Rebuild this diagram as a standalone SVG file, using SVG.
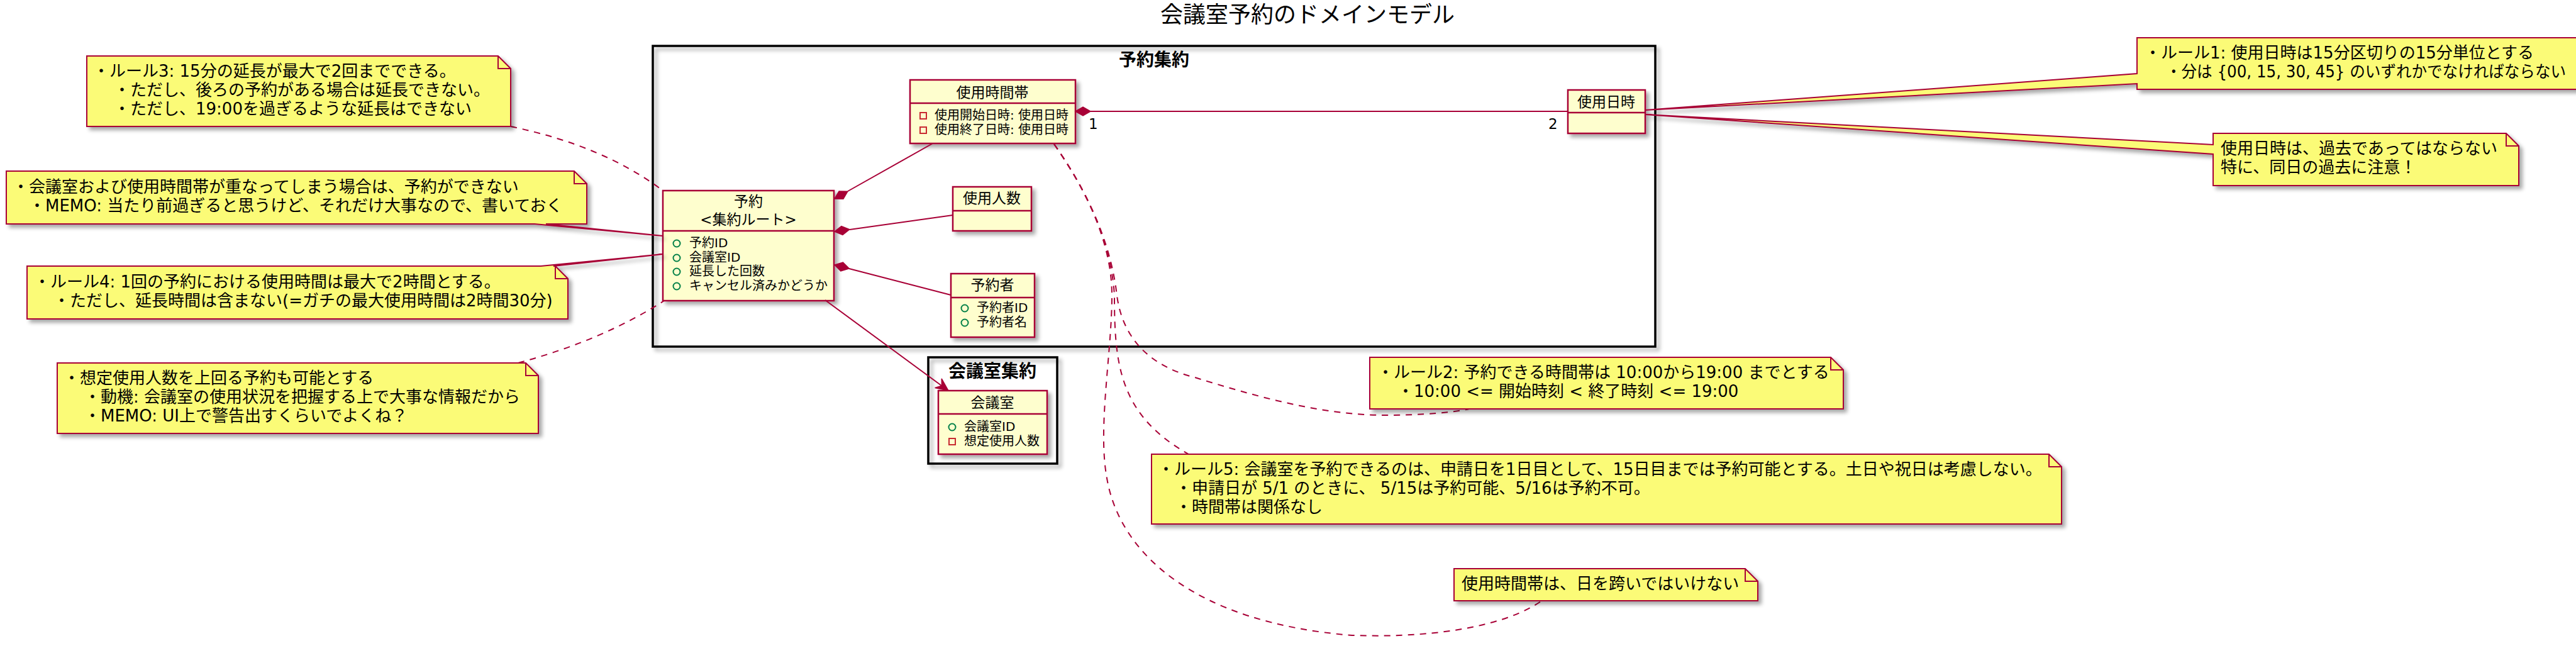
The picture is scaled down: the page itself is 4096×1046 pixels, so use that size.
<svg xmlns="http://www.w3.org/2000/svg" width="4096" height="1046" viewBox="0 0 4096 1046">
<defs>
<filter id="sh" x="-5%" y="-5%" width="115%" height="130%">
<feGaussianBlur in="SourceAlpha" stdDeviation="3"/>
<feOffset dx="5" dy="5"/>
<feComponentTransfer><feFuncA type="linear" slope="0.35"/></feComponentTransfer>
<feMerge><feMergeNode/><feMergeNode in="SourceGraphic"/></feMerge>
</filter>
<style>
.cls{fill:#FEFECE;stroke:#A80036;stroke-width:2.5}
.sep{stroke:#A80036;stroke-width:2.5}
.note{fill:#FBFB77;stroke:#A80036;stroke-width:2}
.fold{fill:none;stroke:#A80036;stroke-width:2}
.frame{fill:none;stroke:#000;stroke-width:3.5}
text{font-family:"DejaVu Sans","Noto Sans CJK JP",sans-serif;fill:#000}
.nm{font-size:23px;text-anchor:middle}
.at{font-size:20px}
.nt{font-size:26px}
.ft{font-size:28px;font-weight:bold;text-anchor:middle}
.ln{stroke:#A80036;stroke-width:2;fill:none}
.dl{stroke:#A80036;stroke-width:2;fill:none;stroke-dasharray:10 9}
.dia{fill:#A80036;stroke:#A80036;stroke-width:1.5}
.pub{fill:none;stroke:#038048;stroke-width:2}
.prv{fill:none;stroke:#C82930;stroke-width:2}
</style>
</defs>
<rect width="4096" height="1046" fill="#fff"/>
<text x="2079" y="36" font-size="36" text-anchor="middle">会議室予約のドメインモデル</text>

<g id="frame-yoyaku">
<rect class="frame" x="1038" y="73" width="1594" height="478" filter="url(#sh)"/>
<text class="ft" x="1835" y="105">予約集約</text>
</g>
<g id="frame-kaigishitsu">
<rect class="frame" x="1476" y="568" width="205" height="169" filter="url(#sh)"/>
<text class="ft" x="1578" y="600">会議室集約</text>
</g>

<g id="class-yoyaku">
<rect class="cls" x="1054" y="303" width="272" height="175" filter="url(#sh)"/>
<line class="sep" x1="1054" y1="367" x2="1326" y2="367"/>
<text class="nm" x="1190" y="328">予約</text>
<text class="nm" x="1190" y="357">&lt;集約ルート&gt;</text>
<circle class="pub" cx="1076" cy="387" r="5.5"/>
<text class="at" x="1096" y="393">予約ID</text>
<circle class="pub" cx="1076" cy="410" r="5.5"/>
<text class="at" x="1096" y="416">会議室ID</text>
<circle class="pub" cx="1076" cy="432" r="5.5"/>
<text class="at" x="1096" y="438">延長した回数</text>
<circle class="pub" cx="1076" cy="455" r="5.5"/>
<text class="at" x="1096" y="461">キャンセル済みかどうか</text>
</g>

<g id="class-jikantai">
<rect class="cls" x="1447" y="127" width="263" height="101" filter="url(#sh)"/>
<line class="sep" x1="1447" y1="164" x2="1710" y2="164"/>
<text class="nm" x="1578" y="155">使用時間帯</text>
<rect class="prv" x="1463" y="179" width="10" height="10"/>
<text class="at" x="1486" y="190">使用開始日時: 使用日時</text>
<rect class="prv" x="1463" y="202" width="10" height="10"/>
<text class="at" x="1486" y="213">使用終了日時: 使用日時</text>
</g>

<g id="class-nichiji">
<rect class="cls" x="2493" y="143" width="123" height="69" filter="url(#sh)"/>
<line class="sep" x1="2493" y1="179" x2="2616" y2="179"/>
<text class="nm" x="2554" y="170">使用日時</text>
</g>

<g id="class-ninzu">
<rect class="cls" x="1515" y="297" width="125" height="70" filter="url(#sh)"/>
<line class="sep" x1="1515" y1="335" x2="1640" y2="335"/>
<text class="nm" x="1577" y="323">使用人数</text>
</g>

<g id="class-yoyakusha">
<rect class="cls" x="1512" y="435" width="133" height="101" filter="url(#sh)"/>
<line class="sep" x1="1512" y1="473" x2="1645" y2="473"/>
<text class="nm" x="1578" y="461">予約者</text>
<circle class="pub" cx="1534" cy="490" r="5.5"/>
<text class="at" x="1553" y="496">予約者ID</text>
<circle class="pub" cx="1534" cy="513" r="5.5"/>
<text class="at" x="1553" y="519">予約者名</text>
</g>

<g id="class-kaigishitsu">
<rect class="cls" x="1492" y="621" width="173" height="101" filter="url(#sh)"/>
<line class="sep" x1="1492" y1="658" x2="1665" y2="658"/>
<text class="nm" x="1578" y="648">会議室</text>
<circle class="pub" cx="1514" cy="679" r="5.5"/>
<text class="at" x="1533" y="685">会議室ID</text>
<rect class="prv" x="1509" y="697" width="10" height="10"/>
<text class="at" x="1533" y="708">想定使用人数</text>
</g>

<g id="connectors">
<line class="ln" x1="1348" y1="304" x2="1483" y2="228"/>
<polygon class="dia" points="1327,316 1340.9,316.2 1347.9,304.2 1334.1,304"/>
<line class="ln" x1="1351" y1="365" x2="1515" y2="342"/>
<polygon class="dia" points="1327,368 1339.9,373.3 1350.8,364.7 1337.9,359.5"/>
<line class="ln" x1="1350" y1="427" x2="1512" y2="469"/>
<polygon class="dia" points="1327,421 1336.8,430.8 1350.2,427 1340.4,417.2"/>
<line class="ln" x1="1734" y1="177" x2="2493" y2="177"/>
<polygon class="dia" points="1710,177 1722,170 1734,177 1722,184"/>
<text x="1731" y="205" font-size="23">1</text>
<text x="2462" y="205" font-size="23">2</text>
<line class="ln" x1="1312" y1="477" x2="1497" y2="613"/>
<polygon class="dia" points="1508,621 1497.2,601.9 1497.5,613.3 1486.6,616.5"/>
<path class="dl" d="M812,201 Q960,232 1054,303"/>
<path class="dl" d="M824,577 Q960,540 1056,478"/>
<path class="dl" d="M1676,229 C1740,320 1768,400 1776,470 C1784,530 1820,580 1900,600 C1990,628 2100,660 2200,660 C2260,660 2310,656 2336,650"/>
<path class="dl" d="M1676,229 C1740,320 1768,400 1772,470 C1772,580 1780,660 1890,722"/>
<path class="dl" d="M1676,229 C1740,320 1768,400 1768,470 C1768,560 1745,680 1760,760 C1780,880 1900,990 2150,1010 C2300,1015 2400,990 2450,956"/>
</g>

<g id="note-rule3">
<path class="note" d="M138,89 L792,89 L812,109 L812,201 L138,201 Z" filter="url(#sh)"/>
<path class="fold" d="M792,89 L792,109 L812,109"/>
<text class="nt" x="148" y="122">・ルール3: 15分の延長が最大で2回までできる。</text>
<text class="nt" x="181" y="152">・ただし、後ろの予約がある場合は延長できない。</text>
<text class="nt" x="181" y="182">・ただし、19:00を過ぎるような延長はできない</text>
</g>

<g id="note-overlap">
<path class="note" d="M10,272 L913,272 L933,292 L933,356 L868,356 L1054,375 L850,356 L10,356 Z" filter="url(#sh)"/>
<path class="fold" d="M913,272 L913,292 L933,292"/>
<text class="nt" x="20" y="306">・会議室および使用時間帯が重なってしまう場合は、予約ができない</text>
<text class="nt" x="46" y="336">・MEMO: 当たり前過ぎると思うけど、それだけ大事なので、書いておく</text>
</g>

<g id="note-rule4">
<path class="note" d="M43,423 L860,423 L1054,404 L880,423 L883,423 L903,443 L903,507 L43,507 Z" filter="url(#sh)"/>
<path class="fold" d="M883,423 L883,443 L903,443"/>
<text class="nt" x="54" y="457">・ルール4: 1回の予約における使用時間は最大で2時間とする。</text>
<text class="nt" x="85" y="487">・ただし、延長時間は含まない(=ガチの最大使用時間は2時間30分)</text>
</g>

<g id="note-ninzu">
<path class="note" d="M91,577 L836,577 L856,597 L856,689 L91,689 Z" filter="url(#sh)"/>
<path class="fold" d="M836,577 L836,597 L856,597"/>
<text class="nt" x="101" y="610">・想定使用人数を上回る予約も可能とする</text>
<text class="nt" x="134" y="640">・動機: 会議室の使用状況を把握する上で大事な情報だから</text>
<text class="nt" x="134" y="670">・MEMO: UI上で警告出すくらいでよくね？</text>
</g>

<g id="note-rule1">
<path class="note" d="M3398,60 L4120,60 L4120,142 L3398,142 L3398,133 L2616,175 L3398,117 Z" filter="url(#sh)"/>
<text class="nt" x="3410" y="93">・ルール1: 使用日時は15分区切りの15分単位とする</text>
<text class="nt" x="3444" y="123" textLength="636" lengthAdjust="spacingAndGlyphs">・分は {00, 15, 30, 45} のいずれかでなければならない</text>
</g>

<g id="note-past">
<path class="note" d="M3519,212 L3985,212 L4005,232 L4005,295 L3519,295 L3519,245 L2616,182 L3519,230 Z" filter="url(#sh)"/>
<path class="fold" d="M3985,212 L3985,232 L4005,232"/>
<text class="nt" x="3531" y="245">使用日時は、過去であってはならない</text>
<text class="nt" x="3531" y="275">特に、同日の過去に注意！</text>
</g>

<g id="note-rule2">
<path class="note" d="M2178,568 L2911,568 L2931,588 L2931,650 L2178,650 Z" filter="url(#sh)"/>
<path class="fold" d="M2911,568 L2911,588 L2931,588"/>
<text class="nt" x="2190" y="601">・ルール2: 予約できる時間帯は 10:00から19:00 までとする</text>
<text class="nt" x="2222" y="631">・10:00 &lt;= 開始時刻 &lt; 終了時刻 &lt;= 19:00</text>
</g>

<g id="note-rule5">
<path class="note" d="M1831,722 L3258,722 L3278,742 L3278,833 L1831,833 Z" filter="url(#sh)"/>
<path class="fold" d="M3258,722 L3258,742 L3278,742"/>
<text class="nt" x="1841" y="755">・ルール5: 会議室を予約できるのは、申請日を1日目として、15日目までは予約可能とする。土日や祝日は考慮しない。</text>
<text class="nt" x="1869" y="785">・申請日が 5/1 のときに、 5/15は予約可能、5/16は予約不可。</text>
<text class="nt" x="1869" y="815">・時間帯は関係なし</text>
</g>

<g id="note-nichi">
<path class="note" d="M2312,904 L2775,904 L2795,924 L2795,955 L2312,955 Z" filter="url(#sh)"/>
<path class="fold" d="M2775,904 L2775,924 L2795,924"/>
<text class="nt" x="2324" y="937">使用時間帯は、日を跨いではいけない</text>
</g>
</svg>
